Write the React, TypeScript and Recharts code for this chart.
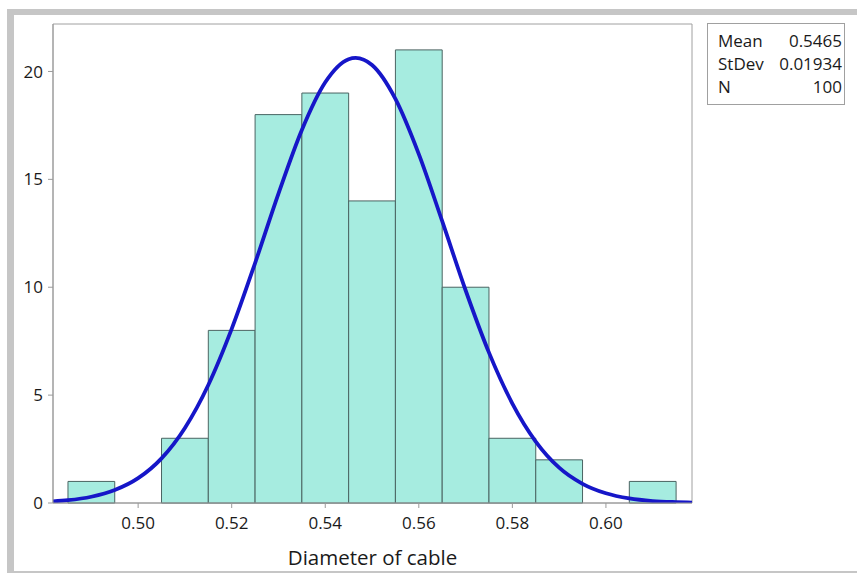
import React from 'react';
import { ComposedChart, Line, ReferenceArea, XAxis, YAxis } from 'recharts';

// histogram bins (center of each 0.01 wide bin) and their counts
const binCenters = [0.49, 0.5, 0.51, 0.52, 0.53, 0.54, 0.55, 0.56, 0.57, 0.58, 0.59, 0.6, 0.61];
const binCounts = [1, 0, 3, 8, 18, 19, 14, 21, 10, 3, 2, 0, 1];
const binWidth = 0.01;

// fitted normal curve
const curveX = [
  0.4818, 0.485, 0.49, 0.495, 0.5, 0.505, 0.51, 0.515, 0.52, 0.525, 0.53, 0.535, 0.54, 0.545, 0.5465,
  0.55, 0.555, 0.56, 0.565, 0.57, 0.575, 0.58, 0.585, 0.59, 0.595, 0.6, 0.605, 0.61, 0.615, 0.6184,
];
const curveY = [
  0.075, 0.13, 0.29, 0.6, 1.15, 2.07, 3.48, 5.47, 8.07, 11.12, 14.34, 17.29, 19.5, 20.57, 20.63,
  20.3, 18.73, 16.17, 13.06, 9.86, 6.97, 4.61, 2.85, 1.64, 0.89, 0.45, 0.21, 0.09, 0.04, 0.02,
];

const xTicks = [0.5, 0.52, 0.54, 0.56, 0.58, 0.6];
const yTicks = [0, 5, 10, 15, 20];
const xDomain: [number, number] = [0.4818, 0.6184];
const yDomain: [number, number] = [0, 22.2];

const statLabels = ['Mean', 'StDev', 'N'];
const statValues = ['0.5465', '0.01934', '100'];

const font = '"Open Sans", "Noto Sans", sans-serif';
const textColor = '#1a1a1a';

const App: React.FC = () => {
  const curveData = curveX.map((x, i) => ({ x, y: curveY[i] }));

  return (
    <div style={{ position: 'absolute', left: 0, top: 0, width: 857, height: 573, background: '#fff', fontFamily: font, overflow: 'hidden' }}>
      {/* grey window frame */}
      <div style={{ position: 'absolute', left: 7, top: 9, width: 850, height: 6, background: '#c6c6c6' }} />
      <div style={{ position: 'absolute', left: 7, top: 9, width: 7, height: 564, background: '#c6c6c6' }} />
      <div style={{ position: 'absolute', left: 7, top: 571, width: 850, height: 2, background: '#c6c6c6' }} />

      <div style={{ position: 'absolute', left: 0, top: 0 }}>
        <ComposedChart
          width={857}
          height={573}
          data={curveData}
          margin={{ top: 24, right: 165, bottom: 8, left: 13 }}
        >
          <XAxis
            dataKey="x"
            type="number"
            domain={xDomain}
            ticks={xTicks}
            allowDataOverflow
            tickFormatter={(v: number) => v.toFixed(2)}
            axisLine={{ stroke: '#9a9a9a' }}
            tickLine={{ stroke: '#9a9a9a' }}
            tickSize={5}
            tickMargin={9}
            tick={{ fill: textColor, fontSize: 17, fontFamily: font }}
            height={62}
            label={{ value: 'Diameter of cable', position: 'insideBottom', offset: 0, fill: textColor, fontSize: 20.5, fontFamily: font }}
          />
          <YAxis
            type="number"
            domain={yDomain}
            ticks={yTicks}
            allowDataOverflow
            axisLine={{ stroke: '#9a9a9a' }}
            tickLine={{ stroke: '#9a9a9a' }}
            tickSize={5}
            tickMargin={5}
            tick={{ fill: textColor, fontSize: 17, fontFamily: font }}
            width={40}
          />
          <ReferenceArea
            x1={xDomain[0]}
            x2={xDomain[1]}
            y1={yDomain[0]}
            y2={yDomain[1]}
            fill="none"
            stroke="#a0a0a0"
            strokeWidth={1}
            ifOverflow="visible"
          />
          {binCenters.map((c, i) =>
            binCounts[i] > 0 ? (
              <ReferenceArea
                key={c}
                x1={c - binWidth / 2}
                x2={c + binWidth / 2}
                y1={0}
                y2={binCounts[i]}
                fill="#a6ece0"
                fillOpacity={1}
                stroke="#4a6462"
                strokeWidth={1}
                ifOverflow="visible"
              />
            ) : null
          )}
          <Line
            type="monotone"
            dataKey="y"
            stroke="#1616c8"
            strokeWidth={3.8}
            dot={false}
            activeDot={false}
            isAnimationActive={false}
          />
        </ComposedChart>
      </div>

      {/* statistics box */}
      <div
        style={{
          position: 'absolute',
          left: 707,
          top: 23,
          width: 136,
          height: 80,
          border: '1px solid #a0a0a0',
          fontSize: 17,
          color: textColor,
          boxSizing: 'content-box',
        }}
      >
        {statLabels.map((l, i) => (
          <div key={l} style={{ position: 'absolute', left: 10, right: 2, top: 5 + i * 23, height: 23, lineHeight: '23px', display: 'flex', justifyContent: 'space-between', whiteSpace: 'nowrap' }}>
            <span>{l}</span>
            <span>{statValues[i]}</span>
          </div>
        ))}
      </div>
    </div>
  );
};

export default App;
